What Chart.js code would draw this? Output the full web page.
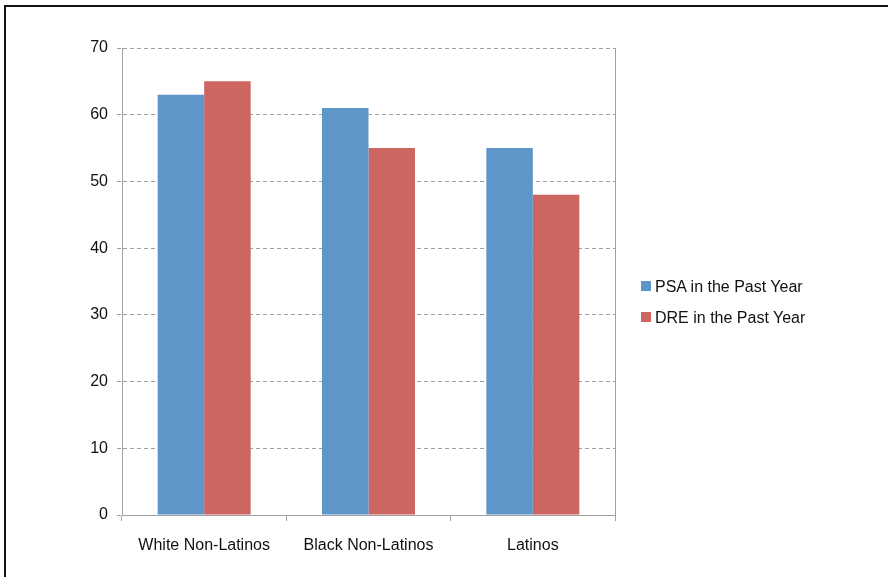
<!DOCTYPE html>
<html lang="en">
  <head>
    <meta charset="UTF-8" />
    <title>PSA and DRE in the Past Year</title>
    <script src="https://cdn.jsdelivr.net/npm/chart.js"></script>
    <style>
      html, body {
        margin: 0;
        padding: 0;
        background: #fff;
      }
      .wrap {
        position: relative;
        width: 888px;
        height: 577px;
        overflow: hidden;
        font-family: "Liberation Sans", Arial, sans-serif;
      }
      .frame {
        position: absolute;
        left: 4px;
        top: 5px;
        right: -10px;
        bottom: -10px;
        border-top: 2px solid #111;
        border-left: 2px solid #111;
        pointer-events: none;
      }
      canvas {
        position: absolute;
        left: 0;
        top: 0;
      }
      #legend {
        position: absolute;
        left: 641px;
        top: 276px;
        font-size: 16px;
        color: #111;
      }
      #legend div {
        height: 31px;
        line-height: 22px;
        white-space: nowrap;
      }
      #legend span.box {
        display: inline-block;
        width: 10px;
        height: 10px;
        margin-right: 4px;
        vertical-align: 1px;
      }
    </style>
  </head>
  <body>
    <div class="wrap">
      <canvas id="chart" width="888" height="577"></canvas>
      <div id="legend"></div>
      <div class="frame"></div>
    </div>

    <script>
      const categories = ["White Non-Latinos", "Black Non-Latinos", "Latinos"];
      const seriesNames = ["PSA in the Past Year", "DRE in the Past Year"];
      const psaValues = [63, 61, 55];
      const dreValues = [65, 55, 48];
      const yTicks = [0, 10, 20, 30, 40, 50, 60, 70];

      const colors = ["#5f96ca", "#cd6560"];
      const axisGrey = "#a0a0a0";

      // right border of the plot area
      const plotBorder = {
        id: "plotBorder",
        afterDraw(chart) {
          const { ctx, chartArea } = chart;
          ctx.save();
          ctx.strokeStyle = axisGrey;
          ctx.lineWidth = 1;
          ctx.beginPath();
          ctx.moveTo(Math.round(chartArea.right) + 0.5, chartArea.top);
          ctx.lineTo(Math.round(chartArea.right) + 0.5, chartArea.bottom);
          ctx.stroke();
          ctx.restore();
        },
      };

      const ctx = document.getElementById("chart").getContext("2d");
      new Chart(ctx, {
        type: "bar",
        data: {
          labels: categories,
          datasets: [
            {
              label: seriesNames[0],
              data: psaValues,
              backgroundColor: colors[0],
            },
            {
              label: seriesNames[1],
              data: dreValues,
              backgroundColor: colors[1],
            },
          ],
        },
        options: {
          responsive: false,
          animation: false,
          devicePixelRatio: 1,
          categoryPercentage: 0.566,
          barPercentage: 1,
          layout: {
            padding: { left: 0, top: 48, right: 273, bottom: 0 },
          },
          plugins: {
            legend: { display: false },
            tooltip: { enabled: false },
          },
          scales: {
            x: {
              grid: {
                offset: true,
                drawOnChartArea: false,
                drawTicks: true,
                tickLength: 6,
                color: axisGrey,
              },
              border: { display: true, color: axisGrey, width: 1 },
              ticks: {
                color: "#111",
                padding: 15,
                font: { family: "'Liberation Sans', Arial, sans-serif", size: 16 },
              },
              afterFit(scale) {
                scale.height = 62;
              },
            },
            y: {
              min: 0,
              max: 70,
              afterBuildTicks(scale) {
                scale.ticks = yTicks.map((v) => ({ value: v }));
              },
              grid: {
                color: axisGrey,
                tickLength: 5,
                tickBorderDash: [4, 3],
              },
              // in v4 border.dash sets the dash of the grid lines
              border: { display: true, color: axisGrey, width: 1, dash: [4, 3] },
              ticks: {
                color: "#111",
                padding: 9,
                font: { family: "'Liberation Sans', Arial, sans-serif", size: 16 },
              },
              afterFit(scale) {
                scale.width = 122;
              },
            },
          },
        },
        plugins: [plotBorder],
      });

      // legend as HTML, built from the same series names and colours
      const legend = document.getElementById("legend");
      seriesNames.forEach((name, i) => {
        const row = document.createElement("div");
        const box = document.createElement("span");
        box.className = "box";
        box.style.background = colors[i];
        row.appendChild(box);
        row.appendChild(document.createTextNode(name));
        legend.appendChild(row);
      });
    </script>
  </body>
</html>
